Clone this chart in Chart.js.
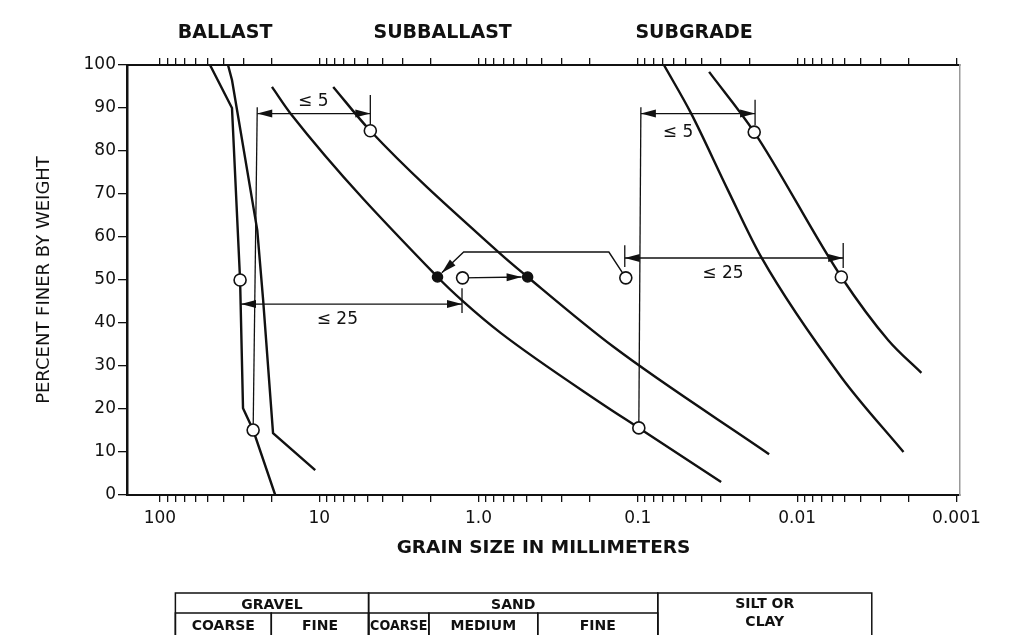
<!DOCTYPE html>
<html lang="en">
<head>
<meta charset="UTF-8">
<title>Gradation limits - ballast, subballast, subgrade</title>
<script src="https://cdn.jsdelivr.net/npm/chart.js"></script>
<style>
    body { margin: 0; background: #fff; }
    canvas { display: block; }
</style>
</head>
<body>
<canvas id="grading" width="1022" height="635"></canvas>
<script>
// grain size (mm), percent finer by weight
const ballastCoarse = [[48.5, 100], [35.3, 90], [31.4, 50], [30.1, 20.2], [26.0, 15.1], [18.9, 0]];
const ballastFine = [[37.4, 100], [35.3, 96.5], [24.5, 61.6], [22.5, 45.3], [19.5, 14.4], [10.6, 5.8]];
const subballastCoarse = [[19.8, 94.9], [15.2, 88.8], [1.81, 50.7], [1.24, 44.9], [0.727, 37.7], [0.171, 21.4], [0.0986, 15.6], [0.030, 3.0]];
const subballastFine = [[8.17, 94.9], [4.78, 84.7], [0.75, 56.5], [0.492, 50.7], [0.1416, 34.4], [0.015, 9.5]];
const subgradeCoarse = [[0.0686, 100], [0.0464, 88.8], [0.0272, 70.9], [0.0168, 55.3], [0.00528, 27.4], [0.00215, 10]];
const subgradeFine = [[0.0357, 98.4], [0.0186, 84.4], [0.00528, 50.7], [0.00268, 36], [0.00166, 28.4]];

// D15 / D50 / D85 marks
const openCircles = [[31.4, 50], [26.0, 15.1], [4.78, 84.7], [1.26, 50.5], [0.119, 50.5], [0.0986, 15.6], [0.0186, 84.4], [0.00528, 50.7]];
const filledDots = [[1.81, 50.7], [0.492, 50.7]];

// thin construction lines
const guideLines = [
    [[24.5, 90.2], [26.0, 15.1]],
    [[0.0957, 90.2], [0.0986, 15.6]],
    [[4.78, 93], [4.78, 86]],
    [[1.27, 48.1], [1.27, 42.3]],
    [[0.1208, 58.1], [0.1208, 53]],
    [[0.01837, 91.9], [0.01837, 86]],
    [[0.00514, 58.6], [0.00514, 52.8]]
];
const doubleArrows = [
    [[24.5, 88.7], [4.78, 88.7]],
    [[31.0, 44.4], [1.27, 44.4]],
    [[0.0957, 88.7], [0.01837, 88.7]],
    [[0.1208, 55.1], [0.00514, 55.1]]
];
const singleArrows = [
    [[1.26, 50.5], [0.492, 50.7]],
    [[0.119, 50.5], [0.152, 56.5], [1.24, 56.5], [1.81, 50.7]]
];
const limitLabels = ['≤ 5', '≤ 25', '≤ 5', '≤ 25'];
const limitLabelAt = [[10.9, 91.6], [7.7, 40.7], [0.056, 84.2], [0.0292, 51.6]];

const zoneLabels = ['BALLAST', 'SUBBALLAST', 'SUBGRADE'];
const zoneLabelAt = [39, 1.68, 0.0444];

// soil classification strip
const soilGroups = ['GRAVEL', 'SAND', 'SILT OR|CLAY'];
const soilGroupBounds = [[80, 4.9], [4.9, 0.075], [0.075, 0.0034]];
const soilSubs = ['COARSE', 'FINE', 'COARSE', 'MEDIUM', 'FINE'];
const soilSubBounds = [[80, 20], [20, 4.9], [4.9, 2.05], [2.05, 0.425], [0.425, 0.075]];

// axes
const X_MIN = 0.00095, X_MAX = 161;
const xMajorTicks = [100, 10, 1, 0.1, 0.01, 0.001];
const xMajorLabels = ['100', '10', '1.0', '0.1', '0.01', '0.001'];
const xMinorSteps = [2, 3, 4, 5, 6, 7, 8, 9];
const yTicks = [0, 10, 20, 30, 40, 50, 60, 70, 80, 90, 100];

const INK = '#111';
const FONT = '"DejaVu Sans", "Liberation Sans", sans-serif';

const xTicks = xMajorTicks.concat(
    xMajorTicks.slice(1).flatMap(d => xMinorSteps.map(m => +(d * m).toPrecision(3)))
);

const toXY = pts => pts.map(([x, y]) => ({ x, y }));

function xLabel(v) {
    const i = xMajorTicks.findIndex(m => Math.abs(Math.log10(m) - Math.log10(v)) < 1e-6);
    return i >= 0 ? xMajorLabels[i] : '';
}

function xAxis(position) {
    const bottom = position === 'bottom';
    return {
        type: 'logarithmic',
        position: position,
        reverse: true,
        min: X_MIN,
        max: X_MAX,
        afterBuildTicks: s => { s.ticks = xTicks.map(v => ({ value: v })); },
        afterFit: s => { s.height = bottom ? 140 : 65; },
        grid: { drawOnChartArea: false, drawTicks: true, tickLength: 7, color: INK, lineWidth: 1.3 },
        border: { display: true, color: INK, width: 2 },
        ticks: {
            autoSkip: false, maxRotation: 0, minRotation: 0, padding: 6, color: INK,
            font: { family: FONT, size: 17 },
            callback: v => bottom ? xLabel(v) : ''
        },
        title: {
            display: bottom,
            text: 'GRAIN SIZE IN MILLIMETERS',
            color: INK,
            font: { family: FONT, size: 18.5, weight: 'bold' },
            padding: { bottom: 76 }
        }
    };
}

// smooth curves use monotone interpolation, the ballast ones are straight segments
function curveSet(pts, width, smooth) {
    return {
        data: toXY(pts), showLine: true, borderColor: INK, borderWidth: width,
        pointRadius: 0, tension: smooth ? 0.4 : 0,
        cubicInterpolationMode: smooth ? 'monotone' : 'default',
        xAxisID: 'x', yAxisID: 'y'
    };
}

function markSet(pts, fill, r) {
    return {
        data: toXY(pts), showLine: false, pointRadius: r, pointHoverRadius: r,
        pointBackgroundColor: fill, pointBorderColor: INK, pointBorderWidth: 1.6,
        xAxisID: 'x', yAxisID: 'y'
    };
}

function arrowHead(ctx, from, tip) {
    const dx = tip[0] - from[0], dy = tip[1] - from[1];
    const len = Math.hypot(dx, dy) || 1;
    const ux = dx / len, uy = dy / len;
    const L = 15, W = 4;
    ctx.beginPath();
    ctx.moveTo(tip[0], tip[1]);
    ctx.lineTo(tip[0] - ux * L - uy * W, tip[1] - uy * L + ux * W);
    ctx.lineTo(tip[0] - ux * L + uy * W, tip[1] - uy * L - ux * W);
    ctx.closePath();
    ctx.fill();
}

function strokePath(ctx, pts) {
    ctx.beginPath();
    pts.forEach((p, i) => i ? ctx.lineTo(p[0], p[1]) : ctx.moveTo(p[0], p[1]));
    ctx.stroke();
}

const overlay = {
    id: 'overlay',
    beforeDatasetsDraw(chart) {
        const { ctx, scales: { x, y } } = chart;
        const px = ([d, p]) => [x.getPixelForValue(d), y.getPixelForValue(p)];
        ctx.save();
        ctx.strokeStyle = INK;
        ctx.fillStyle = INK;
        ctx.lineWidth = 1.4;
        doubleArrows.forEach(a => {
            const pts = a.map(px);
            strokePath(ctx, pts);
            arrowHead(ctx, pts[1], pts[0]);
            arrowHead(ctx, pts[pts.length - 2], pts[pts.length - 1]);
        });
        singleArrows.forEach(a => {
            const pts = a.map(px);
            const end = pts[pts.length - 1], prev = pts[pts.length - 2];
            const len = Math.hypot(end[0] - prev[0], end[1] - prev[1]);
            const tip = [end[0] - (end[0] - prev[0]) / len * 6, end[1] - (end[1] - prev[1]) / len * 6];
            pts[pts.length - 1] = tip;
            strokePath(ctx, pts);
            arrowHead(ctx, prev, tip);
        });
        ctx.restore();
    },
    afterDatasetsDraw(chart) {
        const { ctx, scales: { x, y } } = chart;
        ctx.save();
        ctx.fillStyle = INK;
        ctx.font = '17px ' + FONT;
        ctx.textAlign = 'center';
        ctx.textBaseline = 'middle';
        limitLabels.forEach((t, i) => {
            const [d, p] = limitLabelAt[i];
            ctx.fillText(t, x.getPixelForValue(d), y.getPixelForValue(p));
        });
        ctx.restore();
    },
    afterDraw(chart) {
        const { ctx, chartArea, scales: { x } } = chart;
        ctx.save();
        ctx.fillStyle = INK;
        ctx.strokeStyle = INK;
        ctx.textAlign = 'center';
        ctx.textBaseline = 'middle';

        // zone names above the top axis
        ctx.font = 'bold 19px ' + FONT;
        zoneLabels.forEach((t, i) => {
            ctx.fillText(t, x.getPixelForValue(zoneLabelAt[i]), chartArea.top - 32);
        });

        // classification table
        const top = chartArea.bottom + 98, mid = top + 20, bot = chartArea.bottom + 150;
        ctx.lineWidth = 1.5;
        ctx.font = 'bold 14px ' + FONT;
        soilGroups.forEach((t, i) => {
            const x1 = x.getPixelForValue(soilGroupBounds[i][0]);
            const x2 = x.getPixelForValue(soilGroupBounds[i][1]);
            ctx.strokeRect(x1, top, x2 - x1, bot - top);
            const lines = t.split('|');
            if (lines.length > 1) {
                ctx.fillText(lines[0], (x1 + x2) / 2, top + 11);
                ctx.fillText(lines[1], (x1 + x2) / 2, top + 29);
            } else {
                ctx.fillText(t, (x1 + x2) / 2, top + 12);
            }
        });
        soilSubs.forEach((t, i) => {
            const x1 = x.getPixelForValue(soilSubBounds[i][0]);
            const x2 = x.getPixelForValue(soilSubBounds[i][1]);
            ctx.strokeRect(x1, mid, x2 - x1, bot - mid);
            ctx.fillText(t, (x1 + x2) / 2, mid + 13, x2 - x1 - 3);
        });
        ctx.restore();
    }
};

new Chart(document.getElementById('grading'), {
    type: 'scatter',
    data: {
        datasets: [
            markSet(openCircles, '#fff', 6),
            markSet(filledDots, INK, 5),
            curveSet(ballastCoarse, 2.4, false),
            curveSet(ballastFine, 2.4, false),
            curveSet(subballastCoarse, 2.4, true),
            curveSet(subballastFine, 2.4, true),
            curveSet(subgradeCoarse, 2.4, true),
            curveSet(subgradeFine, 2.4, true),
            ...guideLines.map(g => curveSet(g, 1.3, false))
        ]
    },
    options: {
        responsive: false,
        animation: false,
        layout: { padding: { left: 0, top: 0, bottom: 0, right: 62 } },
        plugins: {
            legend: { display: false },
            tooltip: { enabled: false }
        },
        scales: {
            x: xAxis('bottom'),
            x2: xAxis('top'),
            y: {
                type: 'linear',
                position: 'left',
                min: 0,
                max: 100,
                afterBuildTicks: s => { s.ticks = yTicks.map(v => ({ value: v })); },
                afterFit: s => { s.width = 127; },
                grid: { drawOnChartArea: false, drawTicks: true, tickLength: 9, color: INK, lineWidth: 1.3 },
                border: { display: true, color: INK, width: 2.5 },
                ticks: { autoSkip: false, padding: 2, color: INK, font: { family: FONT, size: 17 } },
                title: {
                    display: true,
                    text: 'PERCENT FINER BY WEIGHT',
                    color: INK,
                    font: { family: FONT, size: 18 },
                    padding: { top: 34 }
                }
            },
            y2: {
                type: 'linear',
                position: 'right',
                min: 0,
                max: 100,
                afterFit: s => { s.width = 0; },
                grid: { drawOnChartArea: false, drawTicks: false },
                border: { display: true, color: '#999', width: 1.5 },
                ticks: { display: false }
            }
        }
    },
    plugins: [overlay]
});
</script>
</body>
</html>
